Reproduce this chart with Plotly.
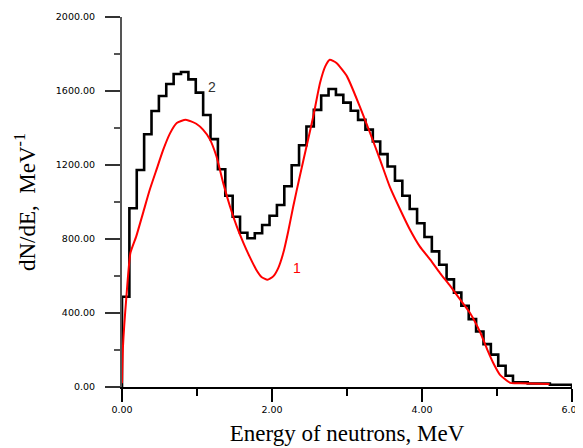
import numpy as np
import plotly.graph_objects as go

# --- histogram (curve 2), 61 bins over 0..6 MeV ---
hist_values = [488, 966, 1173, 1366, 1492, 1573, 1638, 1692, 1703, 1663,
               1591, 1470, 1340, 1177, 1034, 920, 834, 804, 831, 876,
               926, 984, 1085, 1199, 1307, 1408, 1498, 1576, 1611, 1579,
               1537, 1493, 1444, 1391, 1327, 1259, 1192, 1115, 1034, 962,
               885, 811, 733, 661, 582, 510, 439, 367, 300, 232,
               175, 115, 61, 25, 25, 19, 19, 19, 12, 12, 12]
hist_edges = np.linspace(0.0, 6.0, len(hist_values) + 1)

# --- smooth curve (curve 1) ---
curve_x = [0.00, 0.013, 0.059, 0.112, 0.19, 0.28, 0.37, 0.46, 0.55, 0.64,
           0.73, 0.85, 0.99, 1.08, 1.17, 1.26, 1.35, 1.44, 1.53, 1.62,
           1.70, 1.79, 1.86, 1.94, 2.016, 2.083, 2.15, 2.216, 2.283, 2.37,
           2.46, 2.55, 2.64, 2.71, 2.77, 2.86, 3.00, 3.17, 3.31, 3.44,
           3.57, 3.71, 3.84, 3.97, 4.11, 4.24, 4.38, 4.51, 4.64, 4.78,
           4.87, 4.95, 5.04, 5.18, 5.31, 5.70]
curve_y = [20, 219, 490, 724, 814, 940, 1066, 1175, 1283, 1371,
           1427, 1445, 1423, 1391, 1340, 1246, 1102, 976, 868, 778,
           706, 634, 595, 580, 598, 643, 724, 841, 976, 1138,
           1300, 1462, 1643, 1733, 1769, 1751, 1679, 1517, 1371, 1229,
           1083, 958, 850, 760, 688, 616, 544, 472, 400, 292,
           202, 130, 66, 22, 20, 16]

x_ticks = [0, 2, 4, 6]
x_ticktext = ["0.00", "2.00", "4.00", "6.00"]
y_ticks = [0, 400, 800, 1200, 1600, 2000]
y_ticktext = ["0.00", "400.00", "800.00", "1200.00", "1600.00", "2000.00"]

# step outline: rise at 0, flat per bin, drop at 6
step_x = [hist_edges[0]] + list(hist_edges[:-1]) + [hist_edges[-1]]
step_y = [0] + hist_values + [0]

fig = go.Figure()
fig.add_trace(go.Scatter(
    x=step_x, y=step_y, mode="lines", line_shape="hv",
    line=dict(color="black", width=2.6), showlegend=False,
))
fig.add_trace(go.Scatter(
    x=curve_x, y=curve_y, mode="lines", line_shape="spline",
    line=dict(color="#ff0000", width=2, smoothing=0.5), showlegend=False,
))

fig.add_annotation(x=1.20, y=1623, text="2", showarrow=False,
                   font=dict(family="Liberation Sans", size=14, color="#333333"))
fig.add_annotation(x=2.33, y=645, text="1", showarrow=False,
                   font=dict(family="Liberation Sans", size=14, color="#ff0000"))

tick_font = dict(family="DejaVu Sans", size=9.5, color="black")

# page body adds an 8px offset, margins below compensate for it
fig.update_layout(
    width=583, height=448,
    margin=dict(l=114, r=19, t=9, b=69),
    plot_bgcolor="white", paper_bgcolor="white",
    xaxis=dict(
        range=[0, 6], tickvals=x_ticks, ticktext=x_ticktext,
        automargin=False,
        showgrid=False, zeroline=False, showline=True,
        linecolor="black", linewidth=2,
        ticks="outside", ticklen=13, tickwidth=2, tickcolor="black",
        minor=dict(dtick=1, ticks="outside", ticklen=7, tickwidth=2, tickcolor="black"),
        tickfont=tick_font,
        title=dict(text="Energy of neutrons, MeV", standoff=10,
                   font=dict(family="Liberation Serif", size=23, color="black")),
    ),
    yaxis=dict(
        range=[0, 2000], tickvals=y_ticks, ticktext=y_ticktext,
        automargin=False,
        showgrid=False, zeroline=False, showline=True,
        linecolor="#555555", linewidth=2,
        ticks="outside", ticklen=15, tickwidth=2, tickcolor="#333333",
        minor=dict(dtick=200, ticks="outside", ticklen=6, tickwidth=2, tickcolor="#555555"),
        tickfont=tick_font, ticklabelstandoff=8,
        title=dict(text="dN/dE,  MeV<sup>-1</sup>", standoff=14,
                   font=dict(family="Liberation Serif", size=23, color="black")),
    ),
)

fig.write_html("out.html")
